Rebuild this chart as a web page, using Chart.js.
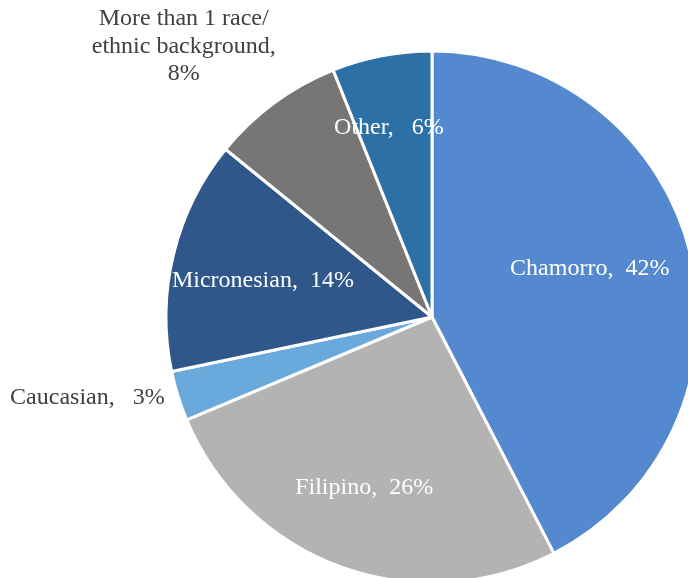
<!DOCTYPE html>
<html>
<head>
<meta charset="utf-8">
<title>Ethnic background</title>
<script src="https://cdn.jsdelivr.net/npm/chart.js@4"></script>
<style>
  html, body { margin: 0; padding: 0; background: #fff; overflow: hidden; }
  #wrap { width: 688px; height: 578px; overflow: hidden; position: relative; }
  #pie { position: absolute; left: 0; top: 0; }
</style>
</head>
<body>
<div id="wrap"><canvas id="pie" width="864" height="634"></canvas></div>
<script>
// Chart data
const groups = ['Chamorro', 'Filipino', 'Caucasian', 'Micronesian', 'More than 1 race/ ethnic background', 'Other'];
const shares = [42, 26, 3, 14, 8, 6];
const colors = ['#5589CF', '#B3B3B3', '#6AA9DC', '#2F578A', '#767676', '#2C70A6'];

// Label lines per slice
const labelLines = [
  ['Chamorro,  42%'],
  ['Filipino,  26%'],
  ['Caucasian,   3%'],
  ['Micronesian,  14%'],
  ['More than 1 race/', 'ethnic background,', '8%'],
  ['Other,   6%']
];

// Label placement: radius as a fraction of the pie radius, angle nudge in degrees
const labelStyle = [
  { r: 0.62, da: -3.3, align: 'center', color: '#fff' },
  { r: 0.69, da: 1.7, align: 'center', color: '#fff' },
  { r: 1.05, da: 0.4, align: 'right', color: '#404040' },
  { r: 0.65, da: -1.6, align: 'center', color: '#fff' },
  { r: 1.38, da: -6.2, align: 'center', color: '#404040' },
  { r: 0.73, da: -1.9, align: 'center', color: '#fff' }
];

const sliceLabels = {
  id: 'sliceLabels',
  afterDatasetsDraw(chart) {
    const ctx = chart.ctx;
    const arcs = chart.getDatasetMeta(0).data;
    ctx.save();
    ctx.font = '24px "Liberation Serif", "Times New Roman", serif';
    ctx.textBaseline = 'middle';
    arcs.forEach((arc, i) => {
      const st = labelStyle[i];
      const mid = (arc.startAngle + arc.endAngle) / 2 + st.da * Math.PI / 180;
      const rad = arc.outerRadius * st.r;
      const x = arc.x + Math.cos(mid) * rad;
      const y = arc.y + Math.sin(mid) * rad;
      const lines = labelLines[i];
      const lh = 27.5;
      ctx.fillStyle = st.color;
      ctx.textAlign = st.align;
      lines.forEach((ln, j) => {
        ctx.fillText(ln, x, y + (j - (lines.length - 1) / 2) * lh);
      });
    });
    ctx.restore();
  }
};

new Chart(document.getElementById('pie'), {
  type: 'pie',
  data: {
    labels: groups,
    datasets: [{
      data: shares,
      backgroundColor: colors,
      borderColor: '#fff',
      borderWidth: 3,
      hoverOffset: 0
    }]
  },
  options: {
    responsive: false,
    animation: false,
    radius: 266,
    layout: { padding: 0 },
    plugins: {
      legend: { display: false },
      tooltip: { enabled: false }
    }
  },
  plugins: [sliceLabels]
});
</script>
</body>
</html>
